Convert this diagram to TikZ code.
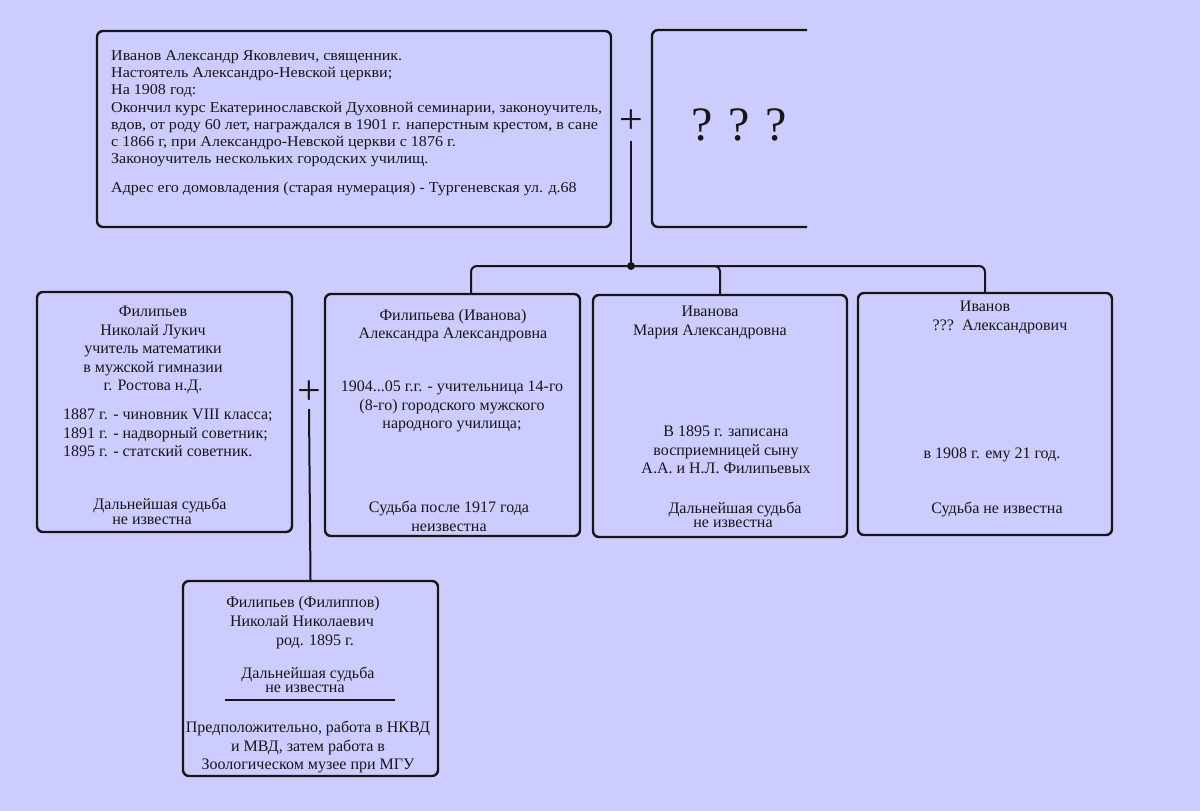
\documentclass[tikz,border=0pt]{standalone}
\usepackage{fontspec}
\setmainfont{Liberation Serif}
\newfontfamily\topfont{Liberation Serif}[FakeStretch=1.07]
\definecolor{bg}{RGB}{204,204,255}
\definecolor{ink}{RGB}{22,22,22}
\begin{document}
\begin{tikzpicture}[x=1pt,y=-1pt,
  boxst/.style={draw=ink, line width=2.4pt, rounded corners=6pt, inner sep=0pt},
  conn/.style={draw=ink, line width=2pt},
  one/.style={text=ink, inner sep=0pt, font=\fontsize{16}{18.5}\selectfont, text height=.69em, text depth=.22em, anchor=center},
  multi/.style={text=ink, inner sep=0pt, font=\fontsize{16}{18.5}\selectfont, align=center, anchor=north},
  topt/.style={text=ink, inner sep=0pt, font=\topfont\fontsize{15}{16.8}\selectfont, align=left, anchor=north west},
  plusst/.style={text=ink, inner sep=0pt, font=\fontsize{42}{42}\selectfont}
]
\fill[bg] (0,0) rectangle (1200,811);
\useasboundingbox (0,0) rectangle (1200,811);

% boxes
\node[boxst, minimum width=514pt, minimum height=196pt] (A) at (354,129) {};
\draw[ink, line width=2.4pt, rounded corners=6pt] (807,30) -| (652,227) -- (807,227);
\node[text=ink, inner sep=0pt, font=\fontsize{48}{48}\selectfont] (Q) at (739,125) {? ? ?};
\node[boxst, minimum width=255pt, minimum height=240pt] (F) at (164.5,412) {};
\node[boxst, minimum width=255pt, minimum height=242pt] (B2) at (452.5,415) {};
\node[boxst, minimum width=254pt, minimum height=242pt] (B3) at (720,416) {};
\node[boxst, minimum width=254pt, minimum height=242pt] (B4) at (985,414) {};
\node[boxst, minimum width=255pt, minimum height=195pt] (B5) at (310.5,678.5) {};

% plus signs and connectors
\node[plusst] (pA) at (631,122) {+};
\node[plusst] (pB) at (309,393) {+};
\coordinate (vA) at (631,141);
\coordinate (J) at (631,266);
\coordinate (vB) at (309,409);
\draw[conn] (vA) -- (J);
\draw[conn, rounded corners=6pt] ([xshift=18.5pt]B2.north) |- (J) -| (B4.north);
\draw[conn, rounded corners=5pt] (J) -| (B3.north);
\fill[ink] (J) circle (4pt);
\draw[conn] (vB) -- (B5.north);

% top box text
\node[topt] (a1) at (111,50.5) {Иванов Александр Яковлевич, священник.\\Настоятель Александро-Невской церкви;\\На 1908 год:};
\node[topt] (a2) at (111,102.5) {Окончил курс Екатеринославской Духовной семинарии, законоучитель,\\вдов, от роду 60 лет, награждался в 1901 г. наперстным крестом, в сане\\с 1866 г, при Александро-Невской церкви с 1876 г.\\Законоучитель нескольких городских училищ.};
\node[topt] (a3) at (111,181.5) {Адрес его домовладения (старая нумерация) - Тургеневская ул. д.68};

% box F
\node[multi] (f1) at (153,306) {Филипьев\\Николай Лукич\\учитель математики\\в мужской гимназии\\г. Ростова н.Д.};
\node[multi, align=left, anchor=north west] (f2) at (63,409) {1887 г. - чиновник VIII класса;\\1891 г. - надворный советник;\\1895 г. - статский советник.};
\node[one] (f3) at (160,507) {Дальнейшая судьба};
\node[one] (f4) at (152,522) {не известна};

% box 2
\node[multi] (b21) at (453,309) {Филипьева (Иванова)\\Александра Александровна};
\node[multi] (b22) at (452,381) {1904...05 г.г. - учительница 14-го\\(8-го) городского мужского\\народного училища;};
\node[multi] (b23) at (449,501) {Судьба после 1917 года\\неизвестна};

% box 3
\node[multi] (b31) at (710,306) {Иванова\\Мария Александровна};
\node[multi] (b32) at (726,426) {В 1895 г. записана\\восприемницей сыну\\А.А. и Н.Л. Филипьевых};
\node[one] (b33) at (735,511) {Дальнейшая судьба};
\node[one] (b34) at (733,525) {не известна};

% box 4
\node[one] (b41) at (985,309) {Иванов};
\node[one] (b42) at (1000,328) {???\ \ Александрович};
\node[one] (b43) at (992,456) {в 1908 г. ему 21 год.};
\node[one] (b44) at (997,511) {Судьба не известна};

% box 5
\node[one] (c1) at (303,605) {Филипьев (Филиппов)};
\node[one] (c2) at (302,624) {Николай Николаевич};
\node[one] (c3) at (315,643) {род. 1895 г.};
\node[one] (c4) at (308,676) {Дальнейшая судьба};
\node[one] (c5) at (305,690) {не известна};
\coordinate (s1) at (225,700);
\coordinate (s2) at (395,700);
\draw[conn] (s1) -- (s2);
\node[multi] (c6) at (308,721) {Предположительно, работа в НКВД\\и МВД, затем работа в\\Зоологическом музее при МГУ};
\end{tikzpicture}
\end{document}
